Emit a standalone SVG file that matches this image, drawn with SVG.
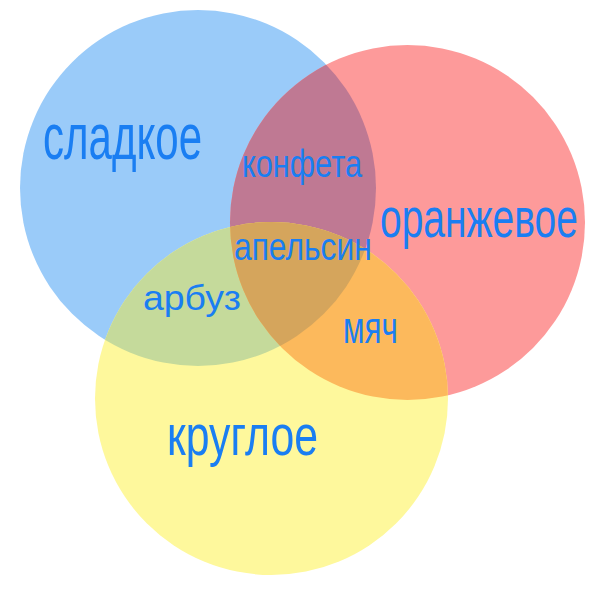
<svg xmlns="http://www.w3.org/2000/svg" width="600" height="600" viewBox="0 0 600 600">
  <style>
    .lbl { font-family: "Liberation Sans", Arial, sans-serif; fill: #1a7ef2; }
  </style>
  <defs>
    <clipPath id="cBlue"><circle cx="198" cy="188" r="178"/></clipPath>
    <clipPath id="cRed"><circle cx="407.5" cy="222.5" r="177.5"/></clipPath>
    <clipPath id="cYellow"><circle cx="271.5" cy="398.5" r="176.5"/></clipPath>
  </defs>
  <rect width="600" height="600" fill="#ffffff"/>
  <g id="circles">
    <circle id="blue" cx="198" cy="188" r="178" fill="#9acbf9"/>
    <circle id="red" cx="407.5" cy="222.5" r="177.5" fill="#fd9a9a"/>
    <circle id="yellow" cx="271.5" cy="398.5" r="176.5" fill="#fef89c"/>
  </g>
  <g id="overlaps">
    <g clip-path="url(#cBlue)">
      <circle cx="407.5" cy="222.5" r="177.5" fill="#bf7993"/>
      <circle cx="271.5" cy="398.5" r="176.5" fill="#c5da9b"/>
    </g>
    <g clip-path="url(#cRed)">
      <circle cx="271.5" cy="398.5" r="176.5" fill="#fcb95c"/>
    </g>
    <g clip-path="url(#cRed)">
      <g clip-path="url(#cBlue)">
        <circle cx="271.5" cy="398.5" r="176.5" fill="#d5a55c"/>
      </g>
    </g>
  </g>
  <g id="node-sladkoe">
    <text class="lbl" transform="translate(43,159) scale(0.66,1)" font-size="64" textLength="241" lengthAdjust="spacingAndGlyphs">сладкое</text>
  </g>
  <g id="node-oranzhevoe">
    <text class="lbl" transform="translate(380,237) scale(0.68,1)" font-size="56" textLength="291" lengthAdjust="spacingAndGlyphs">оранжевое</text>
  </g>
  <g id="node-krugloe">
    <text class="lbl" transform="translate(167,455) scale(0.69,1)" font-size="58" textLength="219" lengthAdjust="spacingAndGlyphs">круглое</text>
  </g>
  <g id="node-konfeta">
    <text class="lbl" transform="translate(242,177) scale(0.8,1)" font-size="38" textLength="150" lengthAdjust="spacingAndGlyphs">конфета</text>
  </g>
  <g id="node-apelsin">
    <text class="lbl" transform="translate(234,260) scale(0.84,1)" font-size="38" textLength="164" lengthAdjust="spacingAndGlyphs">апельсин</text>
  </g>
  <g id="node-arbuz">
    <text class="lbl" x="143" y="310" font-size="35" textLength="98" lengthAdjust="spacingAndGlyphs">арбуз</text>
  </g>
  <g id="node-myach">
    <text class="lbl" transform="translate(343,343) scale(0.72,1)" font-size="44" textLength="76" lengthAdjust="spacingAndGlyphs">мяч</text>
  </g>
  <g id="connectors"/>
</svg>
